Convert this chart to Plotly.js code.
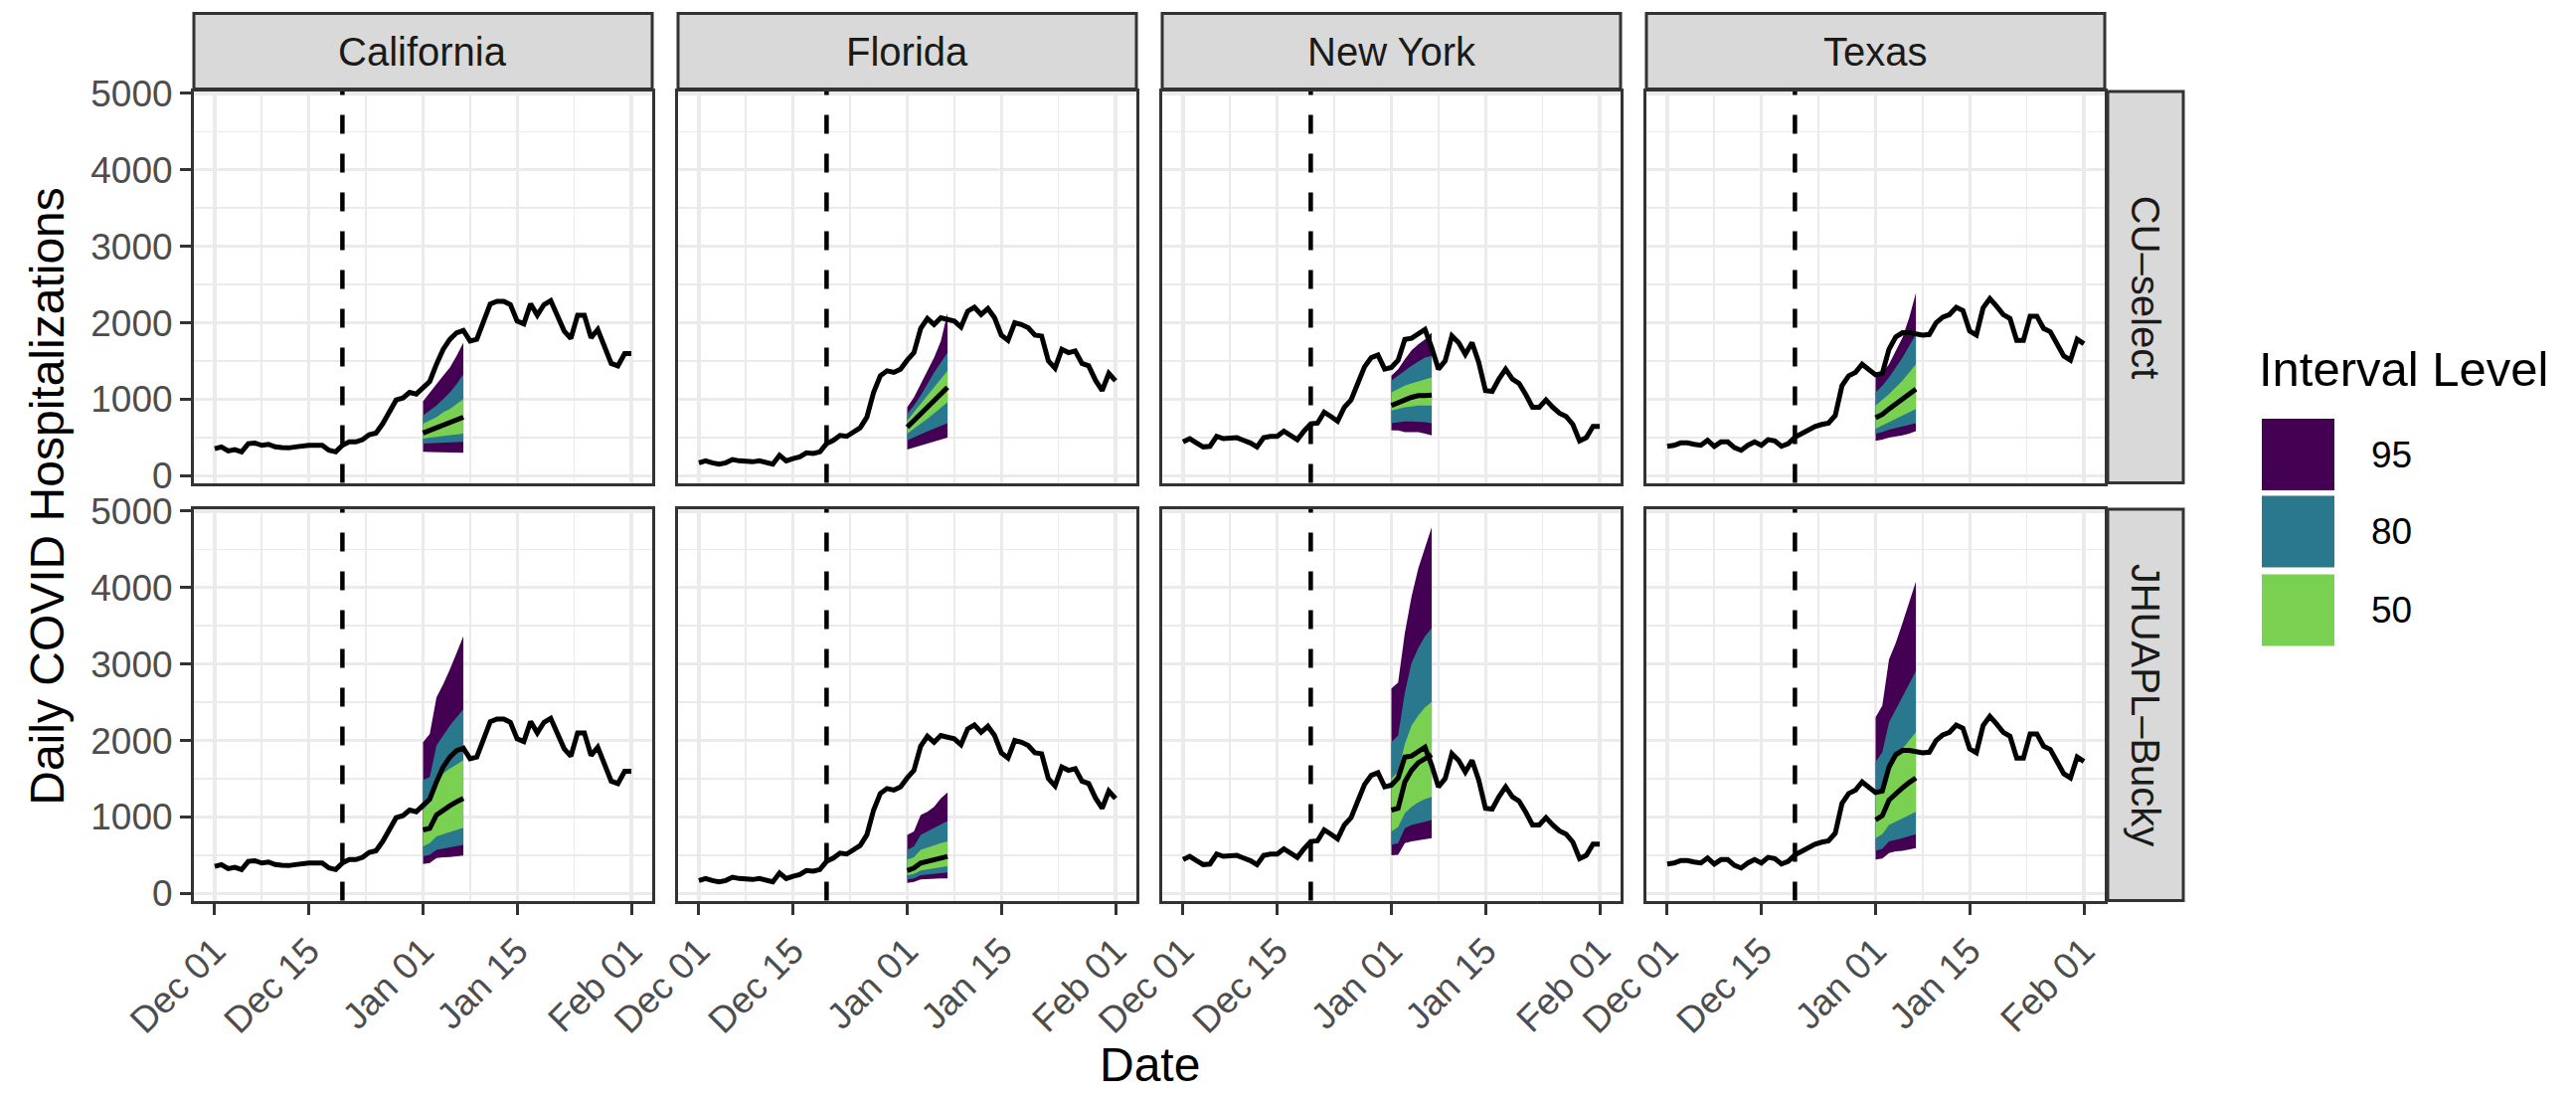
<!DOCTYPE html>
<html><head><meta charset="utf-8">
<script src="https://cdn.plot.ly/plotly-3.0.1.min.js"></script>
<style>html,body{margin:0;padding:0;background:#fff}</style>
</head><body><div id="chart" style="width:2591px;height:1100px"></div>
<script>
// ---------------- DATA ----------------
const states = ['California', 'Florida', 'New York', 'Texas'];
const models = ['CU–select', 'JHUAPL–Bucky'];
const levels = ['95', '80', '50'];
const levelColors = ['#440154', '#2A788E', '#7AD151'];
const forecastDate = ['2021-12-20'];
const obsStartDate = '2021-12-01', obsDayCount = 63;   // Dec 01 .. Feb 01
const fcStartDate = '2022-01-01', fcDayCount = 7;      // Jan 01 .. Jan 07
const xTickVals = ['2021-12-01', '2021-12-15', '2022-01-01', '2022-01-15', '2022-02-01'];
const xTickText = ['Dec 01', 'Dec 15', 'Jan 01', 'Jan 15', 'Feb 01'];
const xMinorVals = ['2021-12-08', '2021-12-23 12:00', '2022-01-08', '2022-01-23 12:00'];
const xRange = ['2021-11-27 21:36', '2022-02-04 02:24'];
const yTickVals = [0, 1000, 2000, 3000, 4000, 5000];
const yMinorVals = [500, 1500, 2500, 3500, 4500];
const yRange = [-93, 5025];

// observed daily hospitalizations, Dec 01 .. Feb 01
const obsCalifornia = [355,377,325,342,312,420,428,398,411,377,368,364,377,394,398,398,398,333,312,398,442,442,472,537,558,680,831,991,1017,1091,1069,
  1156,1234,1459,1654,1784,1870,1900,1762,1784,2022,2247,2281,2281,2238,2022,1987,2247,2100,2238,2290,2108,1892,1797,2100,2100,1805,1913,1675,1468,1437,1597,
  1597];
const obsFlorida = [169,195,169,152,169,212,195,182,182,195,169,152,268,195,225,247,299,290,312,420,463,528,515,571,628,766,1091,1307,1372,1351,1394,
  1511,1610,1926,2056,1978,2065,2043,2022,1944,2152,2203,2108,2186,2065,1840,1771,2000,1978,1935,1840,1827,1502,1407,1654,1610,1632,1468,1437,1251,1113,1338,
  1242];
const obsNewYork = [442,485,429,377,385,515,485,494,498,463,429,377,498,515,515,584,528,472,584,680,688,831,775,714,896,991,1208,1424,1545,1580,1394,
  1416,1511,1784,1797,1848,1913,1675,1394,1502,1827,1740,1589,1740,1481,1113,1104,1264,1394,1264,1208,1061,896,896,991,896,818,775,671,455,498,645,
  645];
const obsTexas = [385,398,429,429,411,398,463,385,442,442,368,333,398,442,398,472,455,385,420,506,550,602,645,671,688,788,1177,1307,1351,1459,1394,
  1320,1338,1654,1814,1870,1870,1857,1840,1848,2000,2074,2108,2203,2160,1892,1840,2195,2316,2216,2108,2056,1771,1771,2087,2087,1926,1883,1740,1567,1511,1784,
  1727];

// forecast quantiles, Jan 01 .. Jan 07; rows: lo95, lo80, lo50, median, hi50, hi80, hi95
const fcCaliforniaCU = [
  [312,310,314,308,306,303,299],
  [420,425,428,430,433,438,442],
  [485,498,506,515,528,541,550],
  [558,593,615,658,701,732,766],
  [680,723,766,831,874,939,1004],
  [788,853,918,1004,1091,1199,1329],
  [974,1091,1199,1307,1416,1567,1740]];
const fcFloridaCU = [
  [342,368,394,420,446,472,498],
  [463,498,541,580,619,654,688],
  [550,615,680,745,818,887,961],
  [636,723,810,896,983,1069,1156],
  [723,831,939,1048,1156,1264,1372],
  [810,918,1048,1199,1351,1481,1610],
  [896,1026,1199,1372,1545,1762,2130]];
const fcNewYorkCU = [
  [593,593,571,571,571,550,528],
  [688,701,710,710,710,701,688],
  [853,874,896,905,918,918,918],
  [918,948,991,1026,1048,1048,1056],
  [1091,1134,1177,1208,1234,1264,1286],
  [1242,1307,1381,1437,1494,1545,1567],
  [1307,1394,1524,1641,1719,1784,1870]];
const fcTexasCU = [
  [455,472,498,515,528,550,584],
  [550,571,602,628,645,667,688],
  [615,658,701,745,788,831,874],
  [758,801,874,939,1013,1069,1134],
  [918,991,1069,1156,1242,1351,1459],
  [1091,1177,1286,1416,1545,1697,1848],
  [1286,1351,1459,1632,1805,2065,2390]];
const fcCaliforniaJHU = [
  [385,398,463,472,476,481,494],
  [485,506,571,584,602,619,636],
  [615,658,745,766,801,831,861],
  [831,853,1026,1091,1147,1199,1242],
  [1091,1199,1459,1567,1632,1684,1740],
  [1481,1524,1935,2065,2195,2303,2411],
  [1978,2087,2563,2736,2931,3147,3364]];
const fcFloridaJHU = [
  [139,152,182,190,190,195,195],
  [182,195,238,247,255,264,273],
  [238,255,299,312,325,342,355],
  [299,333,398,420,442,472,485],
  [442,472,571,602,628,658,680],
  [571,615,766,810,853,896,948],
  [766,810,1026,1069,1134,1242,1320]];
const fcNewYorkJHU = [
  [498,506,658,680,701,710,723],
  [636,658,853,896,918,939,961],
  [810,870,1048,1134,1190,1234,1264],
  [1091,1113,1459,1610,1710,1770,1814],
  [1502,1589,1957,2195,2325,2433,2506],
  [1978,2065,2628,3017,3212,3364,3472],
  [2680,2758,3407,3883,4251,4532,4792]];
const fcTexasJHU = [
  [442,455,528,550,558,571,593],
  [558,584,680,701,723,745,775],
  [723,775,896,939,983,1026,1069],
  [961,1017,1221,1307,1381,1450,1511],
  [1307,1372,1632,1762,1892,2000,2108],
  [1719,1848,2238,2411,2584,2736,2909],
  [2303,2455,3061,3277,3537,3797,4078]];

// ---------------- BUILD ----------------
const observed = [obsCalifornia, obsFlorida, obsNewYork, obsTexas];
const forecasts = [
  [fcCaliforniaCU, fcFloridaCU, fcNewYorkCU, fcTexasCU],
  [fcCaliforniaJHU, fcFloridaJHU, fcNewYorkJHU, fcTexasJHU]];

function dayList(start, n) {
  const out = [];
  const d0 = new Date(start + 'T00:00:00Z');
  for (let i = 0; i < n; i++) {
    const d = new Date(d0.getTime() + i * 86400000);
    out.push(d.toISOString().slice(0, 10));
  }
  return out;
}
const obsDates = dayList(obsStartDate, obsDayCount);
const fcDates = dayList(fcStartDate, fcDayCount);

const W = 2591, H = 1100;
const px = v => v / W;
const py = v => 1 - v / H;
const colX0 = [195, 682, 1169, 1656], colW = 461;
const rowY0 = [92, 512], rowH = 393.5;
const stripTop = 13.5, stripBottom = 89.5;
const rStripX0 = 2120, rStripX1 = 2196;

const FONT = 'Liberation Sans, Arial, Helvetica, sans-serif';
const TICK_SIZE = 37, STRIP_SIZE = 40, TITLE_SIZE = 48, LEG_TITLE_SIZE = 49, LEG_SIZE = 37;
const traces = [];
const layout = {
  width: W, height: H,
  margin: {l: 0, r: 0, t: 0, b: 0},
  paper_bgcolor: '#ffffff', plot_bgcolor: '#ffffff',
  font: {family: FONT, color: '#000000'},
  showlegend: false,
  shapes: [], annotations: []
};

for (let r = 0; r < 2; r++) {
  for (let c = 0; c < 4; c++) {
    const k = r * 4 + c + 1;
    const sfx = k === 1 ? '' : String(k);
    const xa = 'x' + sfx, ya = 'y' + sfx;
    const fc = forecasts[r][c];
    // ribbons: 95, 80, 50
    for (let li = 0; li < 3; li++) {
      const lo = fc[li], hi = fc[6 - li];
      traces.push({
        type: 'scatter', mode: 'lines', xaxis: xa, yaxis: ya,
        x: fcDates.concat(fcDates.slice().reverse()),
        y: hi.concat(lo.slice().reverse()),
        fill: 'toself', fillcolor: levelColors[li],
        line: {width: 0, color: levelColors[li]},
        name: levels[li], hoverinfo: 'skip', showlegend: false
      });
    }
    // median
    traces.push({
      type: 'scatter', mode: 'lines', xaxis: xa, yaxis: ya,
      x: fcDates, y: fc[3], line: {color: '#000000', width: 5},
      showlegend: false, hoverinfo: 'skip'
    });
    // observed
    traces.push({
      type: 'scatter', mode: 'lines', xaxis: xa, yaxis: ya,
      x: obsDates, y: observed[c], line: {color: '#000000', width: 5},
      showlegend: false, hoverinfo: 'skip'
    });

    const x0 = colX0[c], x1 = colX0[c] + colW;
    const y0 = rowY0[r], y1 = rowY0[r] + rowH;
    layout['xaxis' + sfx] = {
      type: 'date', domain: [px(x0), px(x1)], anchor: ya, range: xRange,
      tickmode: 'array', tickvals: xTickVals, ticktext: xTickText,
      showticklabels: r === 1, ticks: r === 1 ? 'outside' : '',
      ticklen: 11, tickwidth: 3, tickcolor: '#333333', tickangle: -45,
      tickfont: {family: FONT, size: TICK_SIZE, color: '#4D4D4D'},
      showgrid: true, gridcolor: '#EBEBEB', gridwidth: 3.2,
      minor: {tickvals: xMinorVals, showgrid: true, gridcolor: '#EBEBEB', gridwidth: 1.7, ticks: ''},
      showline: true, mirror: true, linecolor: '#333333', linewidth: 3,
      zeroline: false, fixedrange: true
    };
    layout['yaxis' + sfx] = {
      domain: [py(y1), py(y0)], anchor: xa, range: yRange,
      tickmode: 'array', tickvals: yTickVals,
      showticklabels: c === 0, ticks: c === 0 ? 'outside' : '',
      ticklen: 11, tickwidth: 3, tickcolor: '#333333',
      tickfont: {family: FONT, size: TICK_SIZE, color: '#4D4D4D'},
      showgrid: true, gridcolor: '#EBEBEB', gridwidth: 3.2,
      minor: {tickvals: yMinorVals, showgrid: true, gridcolor: '#EBEBEB', gridwidth: 1.7, ticks: ''},
      showline: true, mirror: true, linecolor: '#333333', linewidth: 3,
      zeroline: false, fixedrange: true
    };
    // forecast date marker
    layout.shapes.push({
      type: 'line', xref: xa, yref: ya + ' domain',
      x0: forecastDate[0], x1: forecastDate[0], y0: 0, y1: 1,
      line: {color: '#000000', width: 4.5, dash: '19px,20px'}
    });
  }
}

// column strips
states.forEach((s, c) => {
  const x0 = colX0[c], x1 = colX0[c] + colW;
  layout.shapes.push({type: 'rect', xref: 'paper', yref: 'paper',
    x0: px(x0), x1: px(x1), y0: py(stripBottom), y1: py(stripTop),
    fillcolor: '#D9D9D9', line: {color: '#333333', width: 3}, layer: 'below'});
  layout.annotations.push({xref: 'paper', yref: 'paper', x: px((x0 + x1) / 2), y: py((stripTop + stripBottom) / 2),
    text: s, showarrow: false, xanchor: 'center', yanchor: 'middle',
    font: {family: FONT, size: STRIP_SIZE, color: '#1A1A1A'}});
});
// row strips
models.forEach((m, r) => {
  const y0 = rowY0[r], y1 = rowY0[r] + rowH;
  layout.shapes.push({type: 'rect', xref: 'paper', yref: 'paper',
    x0: px(rStripX0), x1: px(rStripX1), y0: py(y1), y1: py(y0),
    fillcolor: '#D9D9D9', line: {color: '#333333', width: 3}, layer: 'below'});
  layout.annotations.push({xref: 'paper', yref: 'paper', x: px((rStripX0 + rStripX1) / 2), y: py((y0 + y1) / 2),
    text: m, showarrow: false, textangle: 90, xanchor: 'center', yanchor: 'middle',
    font: {family: FONT, size: STRIP_SIZE, color: '#1A1A1A'}});
});
// axis titles
layout.annotations.push({xref: 'paper', yref: 'paper', x: px(48), y: py((rowY0[0] + rowY0[1] + rowH) / 2),
  text: 'Daily COVID Hospitalizations', showarrow: false, textangle: -90,
  xanchor: 'center', yanchor: 'middle', font: {family: FONT, size: TITLE_SIZE, color: '#000000'}});
layout.annotations.push({xref: 'paper', yref: 'paper', x: px((colX0[0] + colX0[3] + colW) / 2), y: py(1070),
  text: 'Date', showarrow: false, xanchor: 'center', yanchor: 'middle',
  font: {family: FONT, size: TITLE_SIZE, color: '#000000'}});
// legend (drawn as keys + text)
layout.annotations.push({xref: 'paper', yref: 'paper', x: px(2270), y: py(371),
  text: 'Interval Level', showarrow: false, xanchor: 'left', yanchor: 'middle',
  font: {family: FONT, size: LEG_TITLE_SIZE, color: '#000000'}});
const keyTops = [421, 498.5, 577.5], keyH = 72;
levels.forEach((lv, i) => {
  layout.shapes.push({type: 'rect', xref: 'paper', yref: 'paper',
    x0: px(2275), x1: px(2348), y0: py(keyTops[i] + keyH), y1: py(keyTops[i]),
    fillcolor: levelColors[i], line: {width: 0}});
  layout.annotations.push({xref: 'paper', yref: 'paper', x: px(2383), y: py(keyTops[i] + keyH / 2),
    text: lv, showarrow: false, xanchor: 'left', yanchor: 'middle',
    font: {family: FONT, size: LEG_SIZE, color: '#000000'}});
});

Plotly.newPlot('chart', traces, layout, {staticPlot: true, displayModeBar: false});
</script></body></html>
